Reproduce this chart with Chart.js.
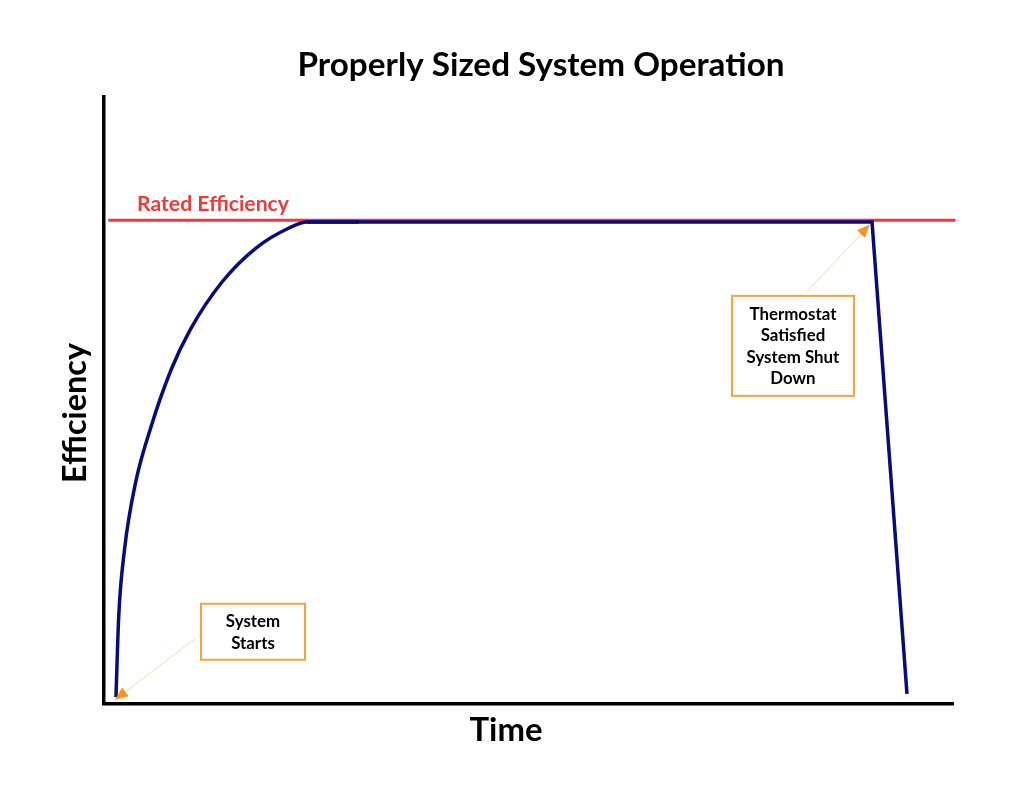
<!DOCTYPE html>
<html><head><meta charset="utf-8">
<script src="https://cdn.jsdelivr.net/npm/chart.js@4.4.0/dist/chart.umd.min.js"></script>
<style>html,body{margin:0;padding:0;background:#fff;overflow:hidden}canvas{display:block}</style>
</head><body>
<canvas id="c" width="1024" height="791"></canvas>
<script>
// ---- text ----
const chartTitle = 'Properly Sized System Operation';
const xAxisTitle = 'Time';
const yAxisTitle = 'Efficiency';
const ratedLabel = 'Rated Efficiency';
const startNote = ['System', 'Starts'];
const stopNote = ['Thermostat', 'Satisfied', 'System Shut', 'Down'];

// ---- data (time 0-100, efficiency 0-100) ----
const riseTime       = [1.41, 1.73, 2.41, 3.71, 5.42, 7.89, 10.13, 13.90, 17.90, 21.79, 23.91, 30.00];
const riseEfficiency = [1.15, 14.33, 25.37, 36.41, 45.14, 55.02, 61.61, 69.52, 75.12, 78.42, 79.41, 79.41];
const runTime        = [23.91, 90.46, 94.58];
const runEfficiency  = [79.41, 79.41, 1.65];
const ratedTime       = [0.5, 100.3];
const ratedEfficiency = [79.7, 79.7];

const toPts = (xs, ys) => xs.map((x, i) => ({x, y: ys[i]}));

const FONT = 'Lato, "Open Sans", "Liberation Sans", sans-serif';
const NAVY = '#0a0a80';
const RED = '#ef3a3a';
const ORANGE = '#f5a23a';

// note boxes positioned in data units
const notes = [
  {lines: startNote, cx: 17.55, cy: 11.9, w: 104, h: 56, tail: [10.95, 11.0], tip: [1.3, 0.7]},
  {lines: stopNote, cx: 81.15, cy: 59.0, w: 122, h: 100, tail: [82.8, 67.9], tip: [90.2, 79.0]}
];

function fitSize(ctx, text, width, weight) {
  ctx.font = weight + ' 100px ' + FONT;
  return 100 * width / ctx.measureText(text).width;
}

const textPlugin = {
  id: 'texts',
  afterDraw(chart) {
    const ctx = chart.ctx, a = chart.chartArea;
    const xs = chart.scales.x, ys = chart.scales.y;
    ctx.save();
    ctx.fillStyle = '#000';
    let s = fitSize(ctx, chartTitle, 487, 'bold');
    ctx.font = 'bold ' + s + 'px ' + FONT;
    ctx.textAlign = 'center'; ctx.textBaseline = 'alphabetic';
    ctx.fillText(chartTitle, (a.left + a.right) / 2 + 12.5, a.top - 21);
    s = fitSize(ctx, xAxisTitle, 73, 'bold');
    ctx.font = 'bold ' + s + 'px ' + FONT;
    ctx.fillText(xAxisTitle, (a.left + a.right) / 2 - 22.5, a.bottom + 37);
    s = fitSize(ctx, yAxisTitle, 140, 'bold');
    ctx.font = 'bold ' + s + 'px ' + FONT;
    ctx.save();
    ctx.translate(a.left - 18, (a.top + a.bottom) / 2 + 12.5);
    ctx.rotate(-Math.PI / 2);
    ctx.fillText(yAxisTitle, 0, 0);
    ctx.restore();
    s = fitSize(ctx, ratedLabel, 152, 'bold');
    ctx.font = 'bold ' + s + 'px ' + FONT;
    ctx.fillStyle = RED;
    ctx.textAlign = 'left';
    ctx.fillText(ratedLabel, a.left + 33, ys.getPixelForValue(ratedEfficiency[0]) - 9);

    const ns = fitSize(ctx, 'Thermostat', 87, 'bold');
    notes.forEach(n => {
      const cx = xs.getPixelForValue(n.cx), cy = ys.getPixelForValue(n.cy);
      const tx = xs.getPixelForValue(n.tail[0]), ty = ys.getPixelForValue(n.tail[1]);
      const px = xs.getPixelForValue(n.tip[0]), py = ys.getPixelForValue(n.tip[1]);
      ctx.strokeStyle = 'rgba(245,162,58,0.28)';
      ctx.lineWidth = 1.2;
      ctx.beginPath(); ctx.moveTo(tx, ty); ctx.lineTo(px, py); ctx.stroke();
      const ang = Math.atan2(py - ty, px - tx);
      const L = 13, W = 5.5;
      const bx = px - L * Math.cos(ang), by = py - L * Math.sin(ang);
      ctx.fillStyle = '#f7941d';
      ctx.beginPath();
      ctx.moveTo(px, py);
      ctx.lineTo(bx + W * Math.sin(ang), by - W * Math.cos(ang));
      ctx.lineTo(bx - W * Math.sin(ang), by + W * Math.cos(ang));
      ctx.closePath(); ctx.fill();
      ctx.fillStyle = '#fff';
      ctx.fillRect(cx - n.w / 2, cy - n.h / 2, n.w, n.h);
      ctx.strokeStyle = ORANGE; ctx.lineWidth = 2;
      ctx.strokeRect(cx - n.w / 2, cy - n.h / 2, n.w, n.h);
      ctx.fillStyle = '#000';
      ctx.font = 'bold ' + ns + 'px ' + FONT;
      ctx.textAlign = 'center'; ctx.textBaseline = 'alphabetic';
      const lh = 21.5;
      n.lines.forEach((t, i) => {
        const lc = cy + (i - (n.lines.length - 1) / 2) * lh;
        ctx.fillText(t, cx, lc + 0.36 * ns);
      });
    });
    ctx.restore();
  }
};

function build() {
  new Chart(document.getElementById('c'), {
    type: 'line',
    data: {
      datasets: [
        {data: toPts(riseTime, riseEfficiency), borderColor: NAVY, borderWidth: 3.5, pointRadius: 0,
         cubicInterpolationMode: 'monotone', fill: false, order: 1},
        {data: toPts(runTime, runEfficiency), borderColor: NAVY, borderWidth: 3.5, pointRadius: 0,
         tension: 0, fill: false, order: 1, borderJoinStyle: 'miter'},
        {data: toPts(ratedTime, ratedEfficiency), borderColor: RED, borderWidth: 3, pointRadius: 0,
         tension: 0, fill: false, order: 2, clip: false}
      ]
    },
    options: {
      responsive: false,
      animation: false,
      events: [],
      layout: {padding: {top: 97, right: 71, left: 0, bottom: 0}},
      plugins: {legend: {display: false}, tooltip: {enabled: false}, title: {display: false}},
      scales: {
        x: {type: 'linear', min: 0, max: 100,
            grid: {display: false, drawTicks: false},
            border: {display: true, color: '#000', width: 3.5},
            ticks: {display: false},
            afterFit(scale) { scale.height = 87; }},
        y: {type: 'linear', min: 0, max: 100,
            grid: {display: false, drawTicks: false},
            border: {display: true, color: '#000', width: 3.5},
            ticks: {display: false},
            afterFit(scale) { scale.width = 104; }}
      }
    },
    plugins: [textPlugin]
  });
}
const ready = document.fonts && document.fonts.load
  ? Promise.all([document.fonts.load('bold 20px Lato')]).catch(() => {})
  : Promise.resolve();
ready.then(build);
</script>
</body></html>
